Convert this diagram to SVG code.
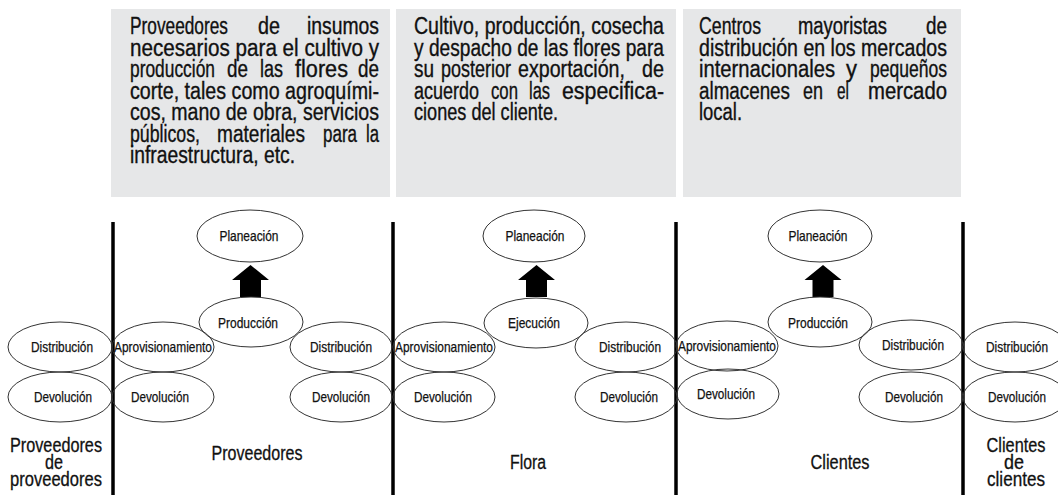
<svg xmlns="http://www.w3.org/2000/svg" xmlns:xlink="http://www.w3.org/1999/xlink" width="1058" height="495" viewBox="0 0 1058 495">
<style>
.box{fill:#e6e7e8;stroke:none}
.bt{font-family:"Liberation Sans Narrow","Liberation Sans",Arial,sans-serif;font-size:23px;fill:#111;stroke:#111;stroke-width:0.35}
.el{fill:none;stroke:#333;stroke-width:1}
.lb{font-family:"Liberation Sans Narrow","Liberation Sans",Arial,sans-serif;font-size:14.5px;fill:#111;stroke:#111;stroke-width:0.25;text-anchor:middle}
.big{font-family:"Liberation Sans Narrow","Liberation Sans",Arial,sans-serif;font-size:20px;fill:#111;stroke:#111;stroke-width:0.3;text-anchor:middle}
.div{stroke:#000;stroke-width:3.5}
.arr{fill:#000}
</style>
<defs>
<path id="blk" d="M0,265 L18.5,280 L10.5,280 L10.5,297 L-10.5,297 L-10.5,280 L-18.5,280 Z"/>
</defs>

<g id="box-proveedores">
<rect class="box" x="111" y="9" width="279" height="188"/>
<text class="bt" x="130" y="34" textLength="98" lengthAdjust="spacingAndGlyphs">Proveedores</text>
<text class="bt" x="258" y="34" textLength="22" lengthAdjust="spacingAndGlyphs">de</text>
<text class="bt" x="307" y="34" textLength="72" lengthAdjust="spacingAndGlyphs">insumos</text>
<text class="bt" x="130" y="55.5" textLength="249" lengthAdjust="spacingAndGlyphs">necesarios para el cultivo y</text>
<text class="bt" x="130" y="77" textLength="85" lengthAdjust="spacingAndGlyphs">producción</text>
<text class="bt" x="227" y="77" textLength="21" lengthAdjust="spacingAndGlyphs">de</text>
<text class="bt" x="260" y="77" textLength="23" lengthAdjust="spacingAndGlyphs">las</text>
<text class="bt" x="295" y="77" textLength="53" lengthAdjust="spacingAndGlyphs">flores</text>
<text class="bt" x="358" y="77" textLength="21" lengthAdjust="spacingAndGlyphs">de</text>
<text class="bt" x="130" y="98.5" textLength="249" lengthAdjust="spacingAndGlyphs">corte, tales como agroquími-</text>
<text class="bt" x="130" y="120" textLength="249" lengthAdjust="spacingAndGlyphs">cos, mano de obra, servicios</text>
<text class="bt" x="130" y="141.5" textLength="70" lengthAdjust="spacingAndGlyphs">públicos,</text>
<text class="bt" x="217" y="141.5" textLength="88" lengthAdjust="spacingAndGlyphs">materiales</text>
<text class="bt" x="323" y="141.5" textLength="34" lengthAdjust="spacingAndGlyphs">para</text>
<text class="bt" x="366" y="141.5" textLength="13" lengthAdjust="spacingAndGlyphs">la</text>
<text class="bt" x="130" y="163" textLength="165" lengthAdjust="spacingAndGlyphs">infraestructura, etc.</text>
</g>

<g id="box-flora">
<rect class="box" x="396" y="9" width="280" height="188"/>
<text class="bt" x="414" y="34" textLength="250" lengthAdjust="spacingAndGlyphs">Cultivo, producción, cosecha</text>
<text class="bt" x="414" y="55.5" textLength="250" lengthAdjust="spacingAndGlyphs">y despacho de las flores para</text>
<text class="bt" x="414" y="77" textLength="20" lengthAdjust="spacingAndGlyphs">su</text>
<text class="bt" x="441" y="77" textLength="70" lengthAdjust="spacingAndGlyphs">posterior</text>
<text class="bt" x="518" y="77" textLength="107" lengthAdjust="spacingAndGlyphs">exportación,</text>
<text class="bt" x="642" y="77" textLength="22" lengthAdjust="spacingAndGlyphs">de</text>
<text class="bt" x="414" y="98.5" textLength="65" lengthAdjust="spacingAndGlyphs">acuerdo</text>
<text class="bt" x="491" y="98.5" textLength="27" lengthAdjust="spacingAndGlyphs">con</text>
<text class="bt" x="529" y="98.5" textLength="21" lengthAdjust="spacingAndGlyphs">las</text>
<text class="bt" x="562" y="98.5" textLength="102" lengthAdjust="spacingAndGlyphs">especifica-</text>
<text class="bt" x="414" y="120" textLength="144" lengthAdjust="spacingAndGlyphs">ciones del cliente.</text>
</g>

<g id="box-clientes">
<rect class="box" x="683" y="9" width="278" height="188"/>
<text class="bt" x="699" y="34" textLength="62" lengthAdjust="spacingAndGlyphs">Centros</text>
<text class="bt" x="798" y="34" textLength="89" lengthAdjust="spacingAndGlyphs">mayoristas</text>
<text class="bt" x="926" y="34" textLength="21" lengthAdjust="spacingAndGlyphs">de</text>
<text class="bt" x="699" y="55.5" textLength="248" lengthAdjust="spacingAndGlyphs">distribución en los mercados</text>
<text class="bt" x="699" y="77" textLength="136" lengthAdjust="spacingAndGlyphs">internacionales</text>
<text class="bt" x="846" y="77" textLength="11" lengthAdjust="spacingAndGlyphs">y</text>
<text class="bt" x="870" y="77" textLength="77" lengthAdjust="spacingAndGlyphs">pequeños</text>
<text class="bt" x="699" y="98.5" textLength="91" lengthAdjust="spacingAndGlyphs">almacenes</text>
<text class="bt" x="803" y="98.5" textLength="20" lengthAdjust="spacingAndGlyphs">en</text>
<text class="bt" x="837" y="98.5" textLength="12" lengthAdjust="spacingAndGlyphs">el</text>
<text class="bt" x="868" y="98.5" textLength="79" lengthAdjust="spacingAndGlyphs">mercado</text>
<text class="bt" x="699" y="120" textLength="43" lengthAdjust="spacingAndGlyphs">local.</text>
</g>

<g id="dividers">
<line class="div" x1="113" y1="222" x2="113" y2="495"/>
<line class="div" x1="393" y1="222" x2="393" y2="495"/>
<line class="div" x1="676" y1="222" x2="676" y2="495"/>
<line class="div" x1="963" y1="222" x2="963" y2="495"/>
</g>

<g id="connectors">
<use xlink:href="#blk" x="250.5" y="0" class="arr"/>
<use xlink:href="#blk" x="536.5" y="0" class="arr"/>
<use xlink:href="#blk" x="823" y="0" class="arr"/>
</g>

<g id="pp-distribucion"><ellipse class="el" cx="60" cy="347" rx="52" ry="25"/><text class="lb" x="62" y="351.5" textLength="62" lengthAdjust="spacingAndGlyphs">Distribución</text></g>
<g id="pp-devolucion"><ellipse class="el" cx="60" cy="397" rx="52" ry="25"/><text class="lb" x="63" y="402" textLength="58" lengthAdjust="spacingAndGlyphs">Devolución</text></g>

<g id="pv-planeacion"><ellipse class="el" cx="250" cy="236" rx="53" ry="26"/><text class="lb" x="249" y="240.5" textLength="59" lengthAdjust="spacingAndGlyphs">Planeación</text></g>
<g id="pv-produccion"><ellipse class="el" cx="251" cy="322" rx="52" ry="25"/><text class="lb" x="248" y="328" textLength="60" lengthAdjust="spacingAndGlyphs">Producción</text></g>
<g id="pv-aprovisionamiento"><ellipse class="el" cx="163" cy="347" rx="51" ry="25"/><text class="lb" x="163" y="351.5" textLength="98" lengthAdjust="spacingAndGlyphs">Aprovisionamiento</text></g>
<g id="pv-devolucion-1"><ellipse class="el" cx="163" cy="397" rx="51" ry="25"/><text class="lb" x="160" y="402" textLength="58" lengthAdjust="spacingAndGlyphs">Devolución</text></g>
<g id="pv-distribucion"><ellipse class="el" cx="341" cy="347" rx="51" ry="25"/><text class="lb" x="341" y="351.5" textLength="62" lengthAdjust="spacingAndGlyphs">Distribución</text></g>
<g id="pv-devolucion-2"><ellipse class="el" cx="341" cy="397" rx="51" ry="25"/><text class="lb" x="341" y="402" textLength="58" lengthAdjust="spacingAndGlyphs">Devolución</text></g>

<g id="fl-planeacion"><ellipse class="el" cx="534" cy="236" rx="51" ry="26"/><text class="lb" x="535" y="240.5" textLength="59" lengthAdjust="spacingAndGlyphs">Planeación</text></g>
<g id="fl-ejecucion"><ellipse class="el" cx="536" cy="323" rx="52" ry="25"/><text class="lb" x="534" y="328" textLength="52" lengthAdjust="spacingAndGlyphs">Ejecución</text></g>
<g id="fl-aprovisionamiento"><ellipse class="el" cx="444" cy="347" rx="51" ry="25"/><text class="lb" x="444" y="351.5" textLength="98" lengthAdjust="spacingAndGlyphs">Aprovisionamiento</text></g>
<g id="fl-devolucion-1"><ellipse class="el" cx="444" cy="397" rx="51" ry="25"/><text class="lb" x="443" y="402" textLength="58" lengthAdjust="spacingAndGlyphs">Devolución</text></g>
<g id="fl-distribucion"><ellipse class="el" cx="626" cy="347" rx="51" ry="25"/><text class="lb" x="630" y="351.5" textLength="62" lengthAdjust="spacingAndGlyphs">Distribución</text></g>
<g id="fl-devolucion-2"><ellipse class="el" cx="626" cy="397" rx="51" ry="25"/><text class="lb" x="629" y="402" textLength="58" lengthAdjust="spacingAndGlyphs">Devolución</text></g>

<g id="cl-planeacion"><ellipse class="el" cx="820" cy="236" rx="52" ry="26"/><text class="lb" x="818" y="240.5" textLength="59" lengthAdjust="spacingAndGlyphs">Planeación</text></g>
<g id="cl-produccion"><ellipse class="el" cx="820" cy="322" rx="52" ry="25"/><text class="lb" x="818" y="328" textLength="60" lengthAdjust="spacingAndGlyphs">Producción</text></g>
<g id="cl-aprovisionamiento"><ellipse class="el" cx="727" cy="346" rx="51" ry="25"/><text class="lb" x="727" y="350.5" textLength="98" lengthAdjust="spacingAndGlyphs">Aprovisionamiento</text></g>
<g id="cl-devolucion-1"><ellipse class="el" cx="728" cy="394" rx="51" ry="25"/><text class="lb" x="726" y="398.5" textLength="58" lengthAdjust="spacingAndGlyphs">Devolución</text></g>
<g id="cl-distribucion"><ellipse class="el" cx="911" cy="345" rx="52" ry="25"/><text class="lb" x="913" y="349.5" textLength="62" lengthAdjust="spacingAndGlyphs">Distribución</text></g>
<g id="cl-devolucion-2"><ellipse class="el" cx="911" cy="397" rx="52" ry="25"/><text class="lb" x="914" y="402" textLength="58" lengthAdjust="spacingAndGlyphs">Devolución</text></g>

<g id="cc-distribucion"><ellipse class="el" cx="1015" cy="347" rx="52" ry="25"/><text class="lb" x="1017" y="351.5" textLength="62" lengthAdjust="spacingAndGlyphs">Distribución</text></g>
<g id="cc-devolucion"><ellipse class="el" cx="1015" cy="397" rx="52" ry="25"/><text class="lb" x="1017" y="402" textLength="58" lengthAdjust="spacingAndGlyphs">Devolución</text></g>

<g id="label-proveedores-de-proveedores">
<text class="big" x="56" y="452" textLength="92" lengthAdjust="spacingAndGlyphs">Proveedores</text>
<text class="big" x="54" y="469" textLength="18" lengthAdjust="spacingAndGlyphs">de</text>
<text class="big" x="56" y="486" textLength="92" lengthAdjust="spacingAndGlyphs">proveedores</text>
</g>
<g id="label-proveedores"><text class="big" x="257" y="460" textLength="91" lengthAdjust="spacingAndGlyphs">Proveedores</text></g>
<g id="label-flora"><text class="big" x="528" y="469" textLength="36" lengthAdjust="spacingAndGlyphs">Flora</text></g>
<g id="label-clientes"><text class="big" x="840" y="469" textLength="59" lengthAdjust="spacingAndGlyphs">Clientes</text></g>
<g id="label-clientes-de-clientes">
<text class="big" x="1016" y="452" textLength="59" lengthAdjust="spacingAndGlyphs">Clientes</text>
<text class="big" x="1014" y="469" textLength="20" lengthAdjust="spacingAndGlyphs">de</text>
<text class="big" x="1016" y="486" textLength="58" lengthAdjust="spacingAndGlyphs">clientes</text>
</g>
</svg>
